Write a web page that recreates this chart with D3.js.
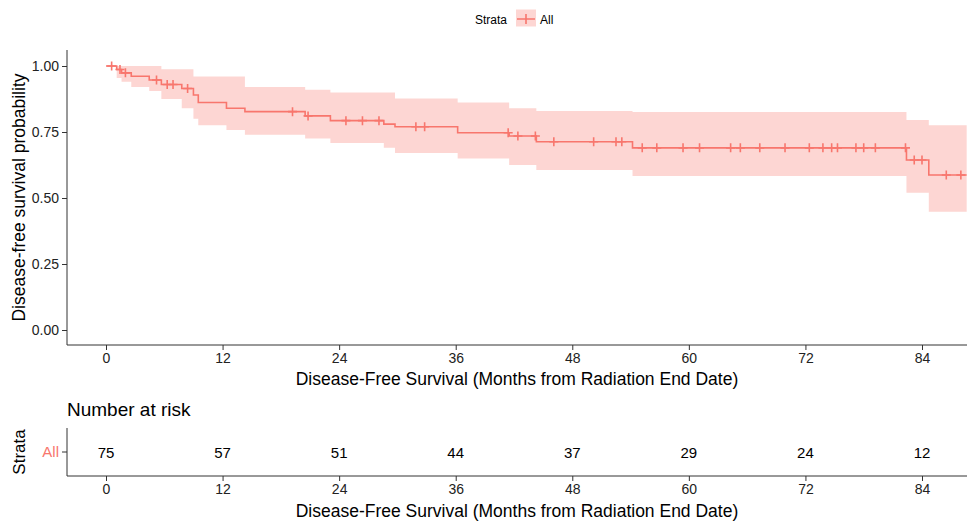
<!DOCTYPE html>
<html>
<head>
<meta charset="utf-8">
<script src="https://cdn.jsdelivr.net/npm/d3@7"></script>
<style>
  body { margin: 0; background: #fff; }
  svg { display: block; }
</style>
</head>
<body>
<svg id="chart" width="967" height="521"></svg>
<script>
// step table: time (months) at which each value begins
let stepTimes = [0, 1.1, 1.6, 2.6, 4.45, 5.7, 7.8, 9.0, 9.5, 12.4, 14.3, 20.5, 23.1, 28.6, 29.75, 36.2, 41.5, 44.3, 54.2, 82.4, 84.7]
let survValues = [1, 0.987, 0.974, 0.961, 0.947, 0.93, 0.915, 0.89, 0.862, 0.84, 0.827, 0.811, 0.793, 0.78, 0.77, 0.747, 0.735, 0.713, 0.69, 0.644, 0.587]
let upperValues = [1, 1, 1, 1, 1, 0.988, 0.988, 0.96, 0.96, 0.96, 0.92, 0.91, 0.90, 0.90, 0.877, 0.862, 0.84, 0.83, 0.826, 0.795, 0.776]
let lowerValues = [1, 0.955, 0.94, 0.92, 0.905, 0.875, 0.84, 0.80, 0.776, 0.758, 0.74, 0.725, 0.708, 0.69, 0.67, 0.65, 0.625, 0.606, 0.583, 0.52, 0.448]
let endTime = 88.6
let censorTimes = [0.58, 1.44, 2.0, 5.2, 6.3, 6.9, 8.4, 19.2, 20.8, 24.7, 26.4, 28.1, 31.9, 32.8, 41.4, 42.4, 44.2, 46.1, 50.2, 52.5, 53.1, 55.2, 56.7, 59.4, 61.1, 64.3, 65.3, 67.3, 69.9, 72.4, 73.8, 74.7, 75.3, 77.2, 78.0, 79.2, 82.3, 83.2, 84.0, 86.5, 88.0]

let xTicks = [0, 12, 24, 36, 48, 60, 72, 84]
let yTicks = [0, 0.25, 0.5, 0.75, 1]
let riskTimes = [0, 12, 24, 36, 48, 60, 72, 84]
let riskCounts = [75, 57, 51, 44, 37, 29, 24, 12]
let strataName = "All"

let config = {}

function initConfig() {
    let width = 967
    let height = 521
    let lineColor = "#F8766D"
    let fontFamily = "Liberation Sans, Arial, sans-serif"
    let container = d3.select("#chart")
    let left = 67, right = 967
    let plotTop = 50, plotBottom = 345
    let tableTop = 428, tableBottom = 476
    let titleSize = "17.5px"
    config = {width, height, lineColor, fontFamily, container, left, right, plotTop, plotBottom, tableTop, tableBottom, titleSize}
}

function survAt(t) {
    let i = d3.bisectRight(stepTimes, t) - 1
    return survValues[Math.max(i, 0)]
}

function drawCurve(x, y) {
    let {container, lineColor, left, right, plotTop, plotBottom} = config

    container.append("clipPath").attr("id", "plotClip")
        .append("rect")
        .attr("x", left).attr("y", plotTop)
        .attr("width", right - left).attr("height", plotBottom - plotTop)

    let rows = stepTimes.map((t, i) => ({t, s: survValues[i], u: upperValues[i], l: lowerValues[i]}))
    let last = rows[rows.length - 1]
    rows.push({t: endTime, s: last.s, u: last.u, l: last.l})

    let g = container.append("g").attr("clip-path", "url(#plotClip)")

    let area = d3.area()
        .curve(d3.curveStepAfter)
        .x(d => x(d.t))
        .y0(d => y(d.l))
        .y1(d => y(d.u))
    g.append("path")
        .datum(rows)
        .attr("d", area)
        .attr("fill", lineColor)
        .attr("fill-opacity", 0.3)

    let line = d3.line()
        .curve(d3.curveStepAfter)
        .x(d => x(d.t))
        .y(d => y(d.s))
    g.append("path")
        .datum(rows)
        .attr("d", line)
        .attr("fill", "none")
        .attr("stroke", lineColor)
        .attr("stroke-width", 1.6)

    // censor marks
    let half = 4.5
    g.selectAll("path.censor").data(censorTimes)
        .enter().append("path")
        .attr("class", "censor")
        .attr("d", t => {
            let cx = x(t), cy = y(survAt(t))
            return `M${cx - half},${cy}H${cx + half}M${cx},${cy - half}V${cy + half}`
        })
        .attr("stroke", lineColor)
        .attr("stroke-width", 1.6)
}

function drawAxes(x, y) {
    let {container, fontFamily, left, right, plotTop, plotBottom, titleSize} = config

    // y axis
    let yAxis = container.append("g")
        .attr("transform", `translate(${left},0)`)
        .call(d3.axisLeft(y).tickValues(yTicks).tickFormat(d3.format(".2f")).tickSize(5).tickSizeOuter(0))
    yAxis.select(".domain").attr("d", `M0,${plotTop}V${plotBottom}`).attr("stroke", "#333")
    yAxis.selectAll(".tick line").attr("stroke", "#333")
    yAxis.selectAll(".tick text").attr("font-family", fontFamily).attr("font-size", "14px").attr("fill", "#222").attr("x", -8)

    // x axis
    let xAxis = container.append("g")
        .attr("transform", `translate(0,${plotBottom})`)
        .call(d3.axisBottom(x).tickValues(xTicks).tickSize(5).tickSizeOuter(0))
    xAxis.select(".domain").attr("d", `M${left},0H${right}`).attr("stroke", "#333")
    xAxis.selectAll(".tick line").attr("stroke", "#333")
    xAxis.selectAll(".tick text").attr("font-family", fontFamily).attr("font-size", "14px").attr("fill", "#222").attr("y", 8)

    container.append("text")
        .attr("transform", `translate(25,${(plotTop + plotBottom) / 2}) rotate(-90)`)
        .attr("text-anchor", "middle")
        .attr("font-family", fontFamily)
        .attr("font-size", titleSize)
        .attr("fill", "#000")
        .text("Disease-free survival probability")

    container.append("text")
        .attr("x", (left + right) / 2)
        .attr("y", 385)
        .attr("text-anchor", "middle")
        .attr("font-family", fontFamily)
        .attr("font-size", titleSize)
        .attr("fill", "#000")
        .text("Disease-Free Survival (Months from Radiation End Date)")
}

function drawLegend() {
    let {container, fontFamily, lineColor} = config
    container.append("text")
        .attr("x", 475).attr("y", 24)
        .attr("font-family", fontFamily).attr("font-size", "12px")
        .text("Strata")
    container.append("rect")
        .attr("x", 516).attr("y", 9.5).attr("width", 20).attr("height", 17)
        .attr("fill", lineColor).attr("fill-opacity", 0.3)
    container.append("path")
        .attr("d", "M517,19H535M526,14V24")
        .attr("stroke", lineColor).attr("stroke-width", 1.6)
    container.append("text")
        .attr("x", 540).attr("y", 24)
        .attr("font-family", fontFamily).attr("font-size", "12px")
        .text(strataName)
}

function drawRiskTable(x) {
    let {container, fontFamily, lineColor, left, right, tableTop, tableBottom, titleSize} = config

    container.append("text")
        .attr("x", left).attr("y", 416)
        .attr("font-family", fontFamily).attr("font-size", "19px")
        .text("Number at risk")

    let band = d3.scaleBand().domain([strataName]).range([tableTop, tableBottom])
    let rowY = band(strataName) + band.bandwidth() / 2
    let yAxis = container.append("g")
        .attr("transform", `translate(${left},0)`)
        .call(d3.axisLeft(band).tickSize(5).tickSizeOuter(0))
    yAxis.select(".domain").attr("d", `M0,${tableTop}V${tableBottom}`).attr("stroke", "#333")
    yAxis.selectAll(".tick line").attr("stroke", "#333")
    yAxis.selectAll(".tick text").attr("font-family", fontFamily).attr("font-size", "15px")
        .attr("fill", lineColor).attr("x", -8)

    let xAxis = container.append("g")
        .attr("transform", `translate(0,${tableBottom})`)
        .call(d3.axisBottom(x).tickValues(xTicks).tickSize(5).tickSizeOuter(0))
    xAxis.select(".domain").attr("d", `M${left},0H${right}`).attr("stroke", "#333")
    xAxis.selectAll(".tick line").attr("stroke", "#333")
    xAxis.selectAll(".tick text").attr("font-family", fontFamily).attr("font-size", "14px").attr("fill", "#222").attr("y", 8)

    container.selectAll("text.risk").data(riskTimes)
        .enter().append("text")
        .attr("class", "risk")
        .attr("x", d => x(d))
        .attr("y", rowY + 1)
        .attr("dy", "0.35em")
        .attr("text-anchor", "middle")
        .attr("font-family", fontFamily).attr("font-size", "15px")
        .text((d, i) => riskCounts[i])

    container.append("text")
        .attr("transform", `translate(25,${rowY}) rotate(-90)`)
        .attr("text-anchor", "middle")
        .attr("font-family", fontFamily)
        .attr("font-size", "17px")
        .text("Strata")

    container.append("text")
        .attr("x", (left + right) / 2)
        .attr("y", 517)
        .attr("text-anchor", "middle")
        .attr("font-family", fontFamily)
        .attr("font-size", titleSize)
        .text("Disease-Free Survival (Months from Radiation End Date)")
}

function draw() {
    initConfig()
    let x = d3.scaleLinear().domain([0, 84]).range([106, 922])
    let y = d3.scaleLinear().domain([0, 1]).range([330, 66])
    drawCurve(x, y)
    drawAxes(x, y)
    drawLegend()
    drawRiskTable(x)
}

draw()
</script>
</body>
</html>
